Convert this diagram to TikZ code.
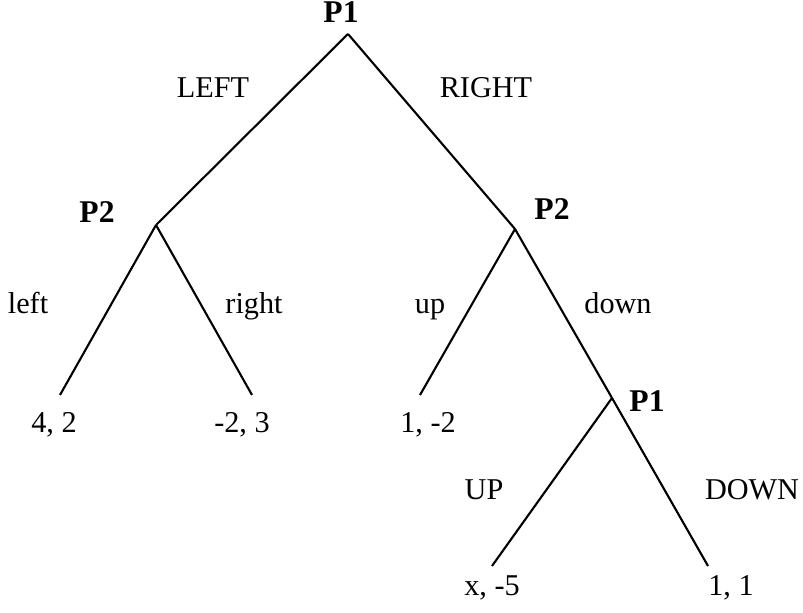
\documentclass[tikz,border=0pt]{standalone}
\usepackage{fontspec}
\setmainfont{Liberation Serif}

\begin{document}
\begin{tikzpicture}[x=1cm, y=-1cm, line width=0.6pt]
	\tikzstyle{every node}=[inner sep=0pt, anchor=base, font=\fontsize{8.6}{10}\selectfont]
	\tikzstyle{player}=[font=\fontsize{9}{10}\selectfont\bfseries]
	\useasboundingbox (0, 0) rectangle (8.03, 6.13);
	% decision points and ends
	\coordinate (root) at (3.48, 0.34);
	\coordinate (n2a) at (1.56, 2.25);
	\coordinate (n2b) at (5.15, 2.29);
	\coordinate (n1c) at (6.12, 3.98);
	\coordinate (e42) at (0.60, 3.95);
	\coordinate (e23) at (2.52, 3.95);
	\coordinate (e12) at (4.20, 3.95);
	\coordinate (ex5) at (4.92, 5.66);
	\coordinate (e11) at (7.08, 5.66);
	% players
	\node[player] (P1) at (3.41, 0.23) {P1};
	\node[player] (P2a) at (0.97, 2.23) {P2};
	\node[player] (P2b) at (5.52, 2.20) {P2};
	\node[player] (P1c) at (6.47, 4.12) {P1};
	% payoffs
	\node (u42) at (0.54, 4.33) {4, 2};
	\node (u23) at (2.42, 4.33) {-2, 3};
	\node (u12) at (4.28, 4.33) {1, -2};
	\node (ux5) at (4.92, 5.96) {x, -5};
	\node (u11) at (7.31, 5.96) {1, 1};
	% move labels
	\node (mL) at (2.13, 0.98) {LEFT};
	\node (mR) at (4.86, 0.98) {RIGHT};
	\node (ml) at (0.28, 3.14) {left};
	\node (mr) at (2.54, 3.14) {right};
	\node (mu) at (4.30, 3.14) {up};
	\node (md) at (6.18, 3.14) {down};
	\node (mU) at (4.84, 5.00) {UP};
	\node (mD) at (7.52, 5.00) {DOWN};
	% moves
	\draw (root) -- (n2a);
	\draw (root) -- (n2b);
	\draw (n2a) -- (e42);
	\draw (n2a) -- (e23);
	\draw (n2b) -- (e12);
	\draw (n2b) -- (n1c);
	\draw (n1c) -- (ex5);
	\draw (n1c) -- (e11);
\end{tikzpicture}
\end{document}
